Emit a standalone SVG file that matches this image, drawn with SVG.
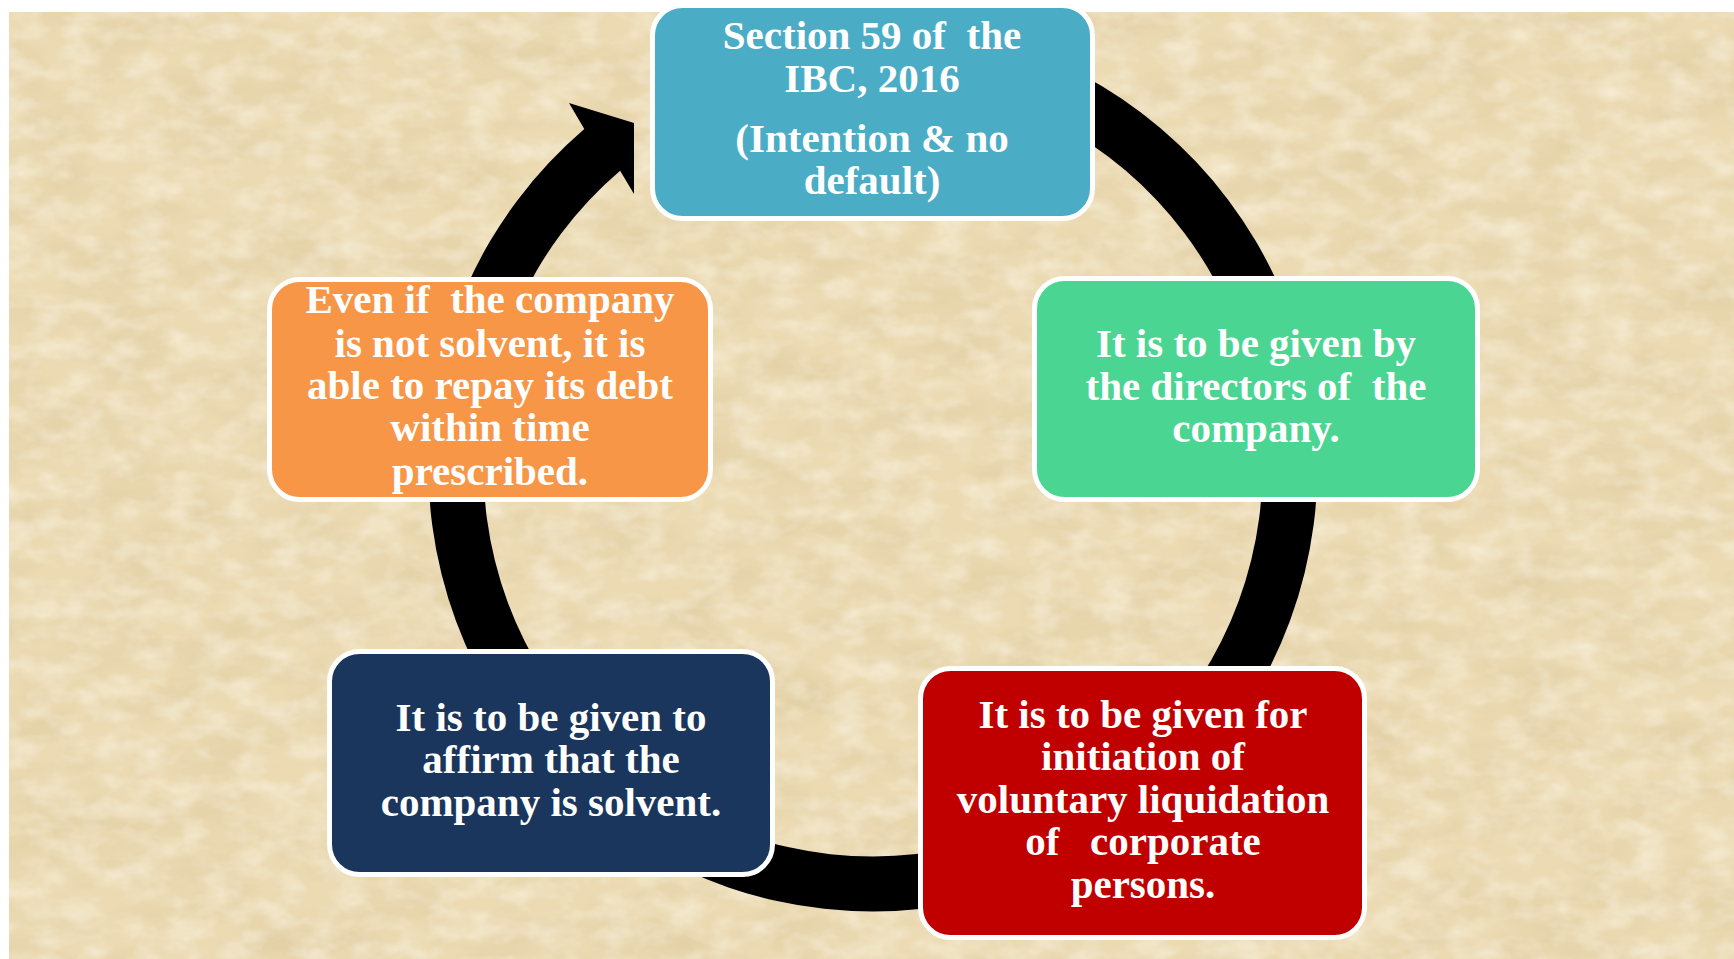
<svg xmlns="http://www.w3.org/2000/svg" width="1734" height="959" viewBox="0 0 1734 959">
  <defs>
    <style>
      .box { stroke: #FFFFFF; stroke-width: 5; }
      .lbl { font-family: "Liberation Serif", "Times New Roman", serif; font-weight: bold; font-size: 41px; fill: #FFFFFF; text-anchor: middle; }
      .ring { fill: #000000; }
    </style>
    <filter id="texDark" x="0" y="0" width="100%" height="100%">
      <feTurbulence type="fractalNoise" baseFrequency="0.012 0.025" numOctaves="4" seed="7" result="n"/>
      <feColorMatrix in="n" type="matrix" values="0 0 0 0 0.62  0 0 0 0 0.48  0 0 0 0 0.26  0 0 0 1.4 -0.55"/>
    </filter>
    <filter id="texLight" x="0" y="0" width="100%" height="100%">
      <feTurbulence type="fractalNoise" baseFrequency="0.03 0.05" numOctaves="3" seed="21" result="n"/>
      <feColorMatrix in="n" type="matrix" values="0 0 0 0 1  0 0 0 0 0.97  0 0 0 0 0.88  0 0 0 1.6 -0.62"/>
    </filter>
  </defs>

  <rect x="0" y="0" width="1734" height="959" fill="#FFFFFF"/>
  <g id="background">
    <rect x="9" y="12" width="1725" height="947" fill="#EBDAB2"/>
    <rect x="9" y="12" width="1725" height="947" filter="url(#texDark)" opacity="0.4"/>
    <rect x="9" y="12" width="1725" height="947" filter="url(#texLight)" opacity="0.6"/>
  </g>

  <g id="connectors">
    <path class="ring" d="M 988.0 37.7 A 444.5 444.5 0 1 1 584.3 129.0 L 569 103 L 634 123 L 634 194 L 620.1 170.8 A 389.5 389.5 0 1 0 973.8 90.8 Z"/>
  </g>

  <g id="node-section59">
    <rect class="box" x="652.5" y="5.5" width="440" height="213" rx="30" fill="#4BACC6"/>
    <text class="lbl" x="872" y="49">Section 59 of&#160; the</text>
    <text class="lbl" x="872" y="92">IBC, 2016</text>
    <text class="lbl" x="872" y="152">(Intention &amp; no</text>
    <text class="lbl" x="872" y="194">default)</text>
  </g>

  <g id="node-directors">
    <rect class="box" x="1034.5" y="278.5" width="443" height="221" rx="30" fill="#4AD592"/>
    <text class="lbl" x="1256" y="357">It is to be given by</text>
    <text class="lbl" x="1256" y="400">the directors of&#160; the</text>
    <text class="lbl" x="1256" y="442">company.</text>
  </g>

  <g id="node-initiation">
    <rect class="box" x="920.5" y="668.5" width="444" height="269" rx="30" fill="#C00000"/>
    <text class="lbl" x="1143" y="728">It is to be given for</text>
    <text class="lbl" x="1143" y="770">initiation of</text>
    <text class="lbl" x="1143" y="813">voluntary liquidation</text>
    <text class="lbl" x="1143" y="855">of&#160;&#160; corporate</text>
    <text class="lbl" x="1143" y="898">persons.</text>
  </g>

  <g id="node-solvent">
    <rect class="box" x="329.5" y="651.5" width="443" height="223" rx="30" fill="#1A365D"/>
    <text class="lbl" x="551" y="731">It is to be given to</text>
    <text class="lbl" x="551" y="773">affirm that the</text>
    <text class="lbl" x="551" y="816">company is solvent.</text>
  </g>

  <g id="node-repay">
    <rect class="box" x="269.5" y="279.5" width="441" height="220" rx="30" fill="#F79646"/>
    <text class="lbl" x="490" y="313">Even if&#160; the company</text>
    <text class="lbl" x="490" y="357">is not solvent, it is</text>
    <text class="lbl" x="490" y="399">able to repay its debt</text>
    <text class="lbl" x="490" y="441">within time</text>
    <text class="lbl" x="490" y="485">prescribed.</text>
  </g>
</svg>
